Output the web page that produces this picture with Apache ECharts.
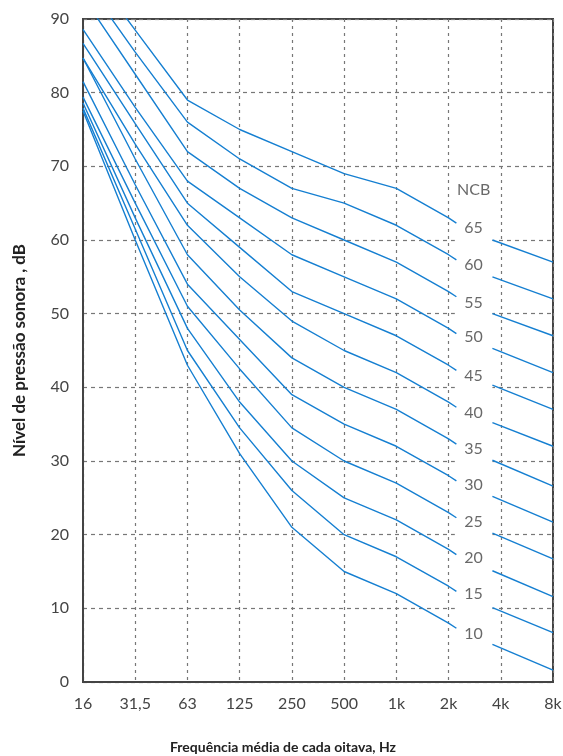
<!DOCTYPE html>
<html>
<head>
<meta charset="utf-8">
<script src="https://cdn.jsdelivr.net/npm/echarts@6/dist/echarts.min.js"></script>
<style>
  html, body { margin: 0; padding: 0; background: #fff; }
  #chart { width: 563px; height: 756px; }
</style>
</head>
<body>
<div id="chart"></div>
<script>
// octave band centre frequencies (x axis tick labels)
var freqLabels = ['16', '31,5', '63', '125', '250', '500', '1k', '2k', '4k', '8k'];

// x positions of the points: bands 16..2k, then the short stub past 2k
var leftX = [0, 1, 2, 3, 4, 5, 6, 7, 7.15];
// right-hand pieces start just before 4k and run to 8k
var rightX = [7.84, 9];

var ncbLevels = [65, 60, 55, 50, 45, 40, 35, 30, 25, 20, 15, 10];

// dB values, 16 Hz .. 2k, then the stub end
var ncb65 = [98, 88.5, 79, 75, 72, 69, 67, 63, 62.3];
var ncb60 = [95.5, 85.5, 76, 71, 67, 65, 62, 58, 57.3];
var ncb55 = [93, 82.5, 72, 67, 63, 60, 57, 53, 52.3];
var ncb50 = [88.6, 78, 68, 63, 58, 55, 52, 48, 47.3];
var ncb45 = [86.7, 75.8, 65, 59, 53, 50, 47, 43, 42.3];
var ncb40 = [84.7, 73, 62, 55, 49, 45, 42, 38, 37.3];
var ncb35 = [84.7, 71, 58, 50.5, 44, 40, 37, 33, 32.3];
var ncb30 = [81.5, 67.5, 54, 46.5, 39, 35, 32, 28, 27.3];
var ncb25 = [79.4, 65, 51, 42.5, 34.5, 30, 27, 23, 22.3];
var ncb20 = [78.6, 63, 48, 38, 30, 25, 22, 18, 17.3];
var ncb15 = [77.9, 61.5, 45, 34.5, 26, 20, 17, 13, 12.3];
var ncb10 = [77.5, 60, 43, 31, 21, 15, 12, 8, 7.3];

// right-hand pieces (start near 4k, end at 8k)
var right65 = [60, 57];
var right60 = [55, 52];
var right55 = [50, 47];
var right50 = [45.3, 42];
var right45 = [40.3, 37];
var right40 = [35.2, 32];
var right35 = [30.1, 26.6];
var right30 = [25.2, 21.7];
var right25 = [20.2, 16.7];
var right20 = [15.1, 11.6];
var right15 = [10.1, 6.7];
var right10 = [5.1, 1.6];

// curve labels between 2k and 4k
var labelX = 7.48;
var labelY = [61.7, 56.6, 51.5, 46.8, 41.6, 36.6, 31.6, 26.8, 21.8, 16.9, 12.0, 6.6];
var titleY = 66.8;

var leftCurves = [ncb65, ncb60, ncb55, ncb50, ncb45, ncb40, ncb35, ncb30, ncb25, ncb20, ncb15, ncb10];
var rightCurves = [right65, right60, right55, right50, right45, right40, right35, right30, right25, right20, right15, right10];

var blue = '#157fd1';
var fontName = 'Lato';

var dom = document.getElementById('chart');
var myChart = echarts.init(dom, null, { renderer: 'canvas' });

var series = [];

// white patch so horizontal grid lines break in the label column
series.push({
    type: 'line',
    data: [],
    silent: true,
    markArea: {
        silent: true,
        itemStyle: { color: '#fff' },
        data: [[{ coord: [7.12, 0.4] }, { coord: [7.84, 61] }]]
    },
    z: 1
});

ncbLevels.forEach(function (lvl, i) {
    series.push({
        name: 'NCB ' + lvl,
        type: 'line',
        showSymbol: false,
        lineStyle: { color: blue, width: 1.4 },
        data: leftX.map(function (x, j) { return [x, leftCurves[i][j]]; }),
        z: 3
    });
    series.push({
        name: 'NCB ' + lvl + ' r',
        type: 'line',
        showSymbol: false,
        lineStyle: { color: blue, width: 1.4 },
        data: rightX.map(function (x, j) { return [x, rightCurves[i][j]]; }),
        z: 3
    });
});

// labels
series.push({
    type: 'scatter',
    symbolSize: 0,
    silent: true,
    label: {
        show: true,
        position: 'inside',
        color: '#444',
        fontFamily: fontName,
        fontSize: 16,
        formatter: function (p) { return p.data[2]; }
    },
    data: [[labelX, titleY, 'NCB']].concat(ncbLevels.map(function (lvl, i) {
        return [labelX, labelY[i], String(lvl)];
    })),
    z: 5
});

var option = {
    animation: false,
    backgroundColor: '#fff',
    textStyle: { fontFamily: fontName },
    grid: {
        left: 83,
        right: 10,
        top: 19,
        bottom: 74,
        outerBoundsMode: 'none',
        containLabel: false,
        show: true,
        borderColor: '#444',
        borderWidth: 2,
        backgroundColor: 'transparent'
    },
    xAxis: {
        type: 'value',
        min: 0,
        max: 9,
        interval: 1,
        name: 'Frequência média de cada oitava, Hz',
        nameLocation: 'middle',
        nameGap: 58,
        nameTextStyle: {
            color: '#222', fontSize: 14, fontWeight: 'bold', fontFamily: fontName,
            padding: [0, 70, 0, 0]
        },
        axisLine: { lineStyle: { color: '#444', width: 2 } },
        axisTick: { show: false },
        axisLabel: {
            color: '#444',
            fontSize: 16,
            margin: 14,
            formatter: function (v) { return freqLabels[Math.round(v)]; }
        },
        splitLine: { show: true, lineStyle: { color: '#777', type: [3, 4], width: 1.2 } }
    },
    yAxis: {
        type: 'value',
        min: 0,
        max: 90,
        interval: 10,
        name: 'Nível de pressão sonora , dB',
        nameLocation: 'middle',
        nameGap: 55,
        nameTextStyle: { color: '#222', fontSize: 17, fontWeight: 'bold', fontFamily: fontName },
        axisLine: { show: true, lineStyle: { color: '#444', width: 2 } },
        axisTick: { show: false },
        axisLabel: { color: '#444', fontSize: 16, margin: 14 },
        splitLine: { show: true, lineStyle: { color: '#777', type: [4, 4], width: 1.2 } }
    },
    series: series
};

myChart.setOption(option);
</script>
</body>
</html>
